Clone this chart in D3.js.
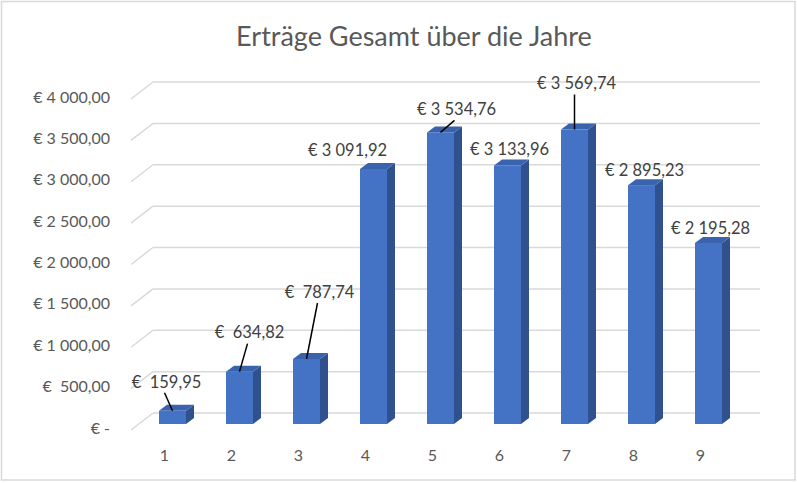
<!DOCTYPE html>
<html>
<head>
<meta charset="utf-8">
<script src="https://cdn.jsdelivr.net/npm/d3@7"></script>
<style>
  body { margin: 0; background: #fff; }
  text { font-family: Lato, "Noto Sans", sans-serif; fill: #595959; }
</style>
</head>
<body>
<div id="chart"></div>
<script>
// data
const years = ["1", "2", "3", "4", "5", "6", "7", "8", "9"];
const ertraege = [159.95, 634.82, 787.74, 3091.92, 3534.76, 3133.96, 3569.74, 2895.23, 2195.28];
const yTicks = [0, 500, 1000, 1500, 2000, 2500, 3000, 3500, 4000];

// where Excel placed the data labels, relative to the bar top
const labelDx = [-6, 10, 13, -26, 16, 2, 2, 3, 2];
const labelDy = [-29, -39, -67, -19, -23, -16, -46, -15, -15];
const hasLeader = [true, true, true, false, true, false, true, false, false];

const W = 797, H = 483;
const depthX = 8, depthY = -6;

const svg = d3.select("#chart").append("svg")
    .attr("width", W)
    .attr("height", H);

// chart border
svg.append("rect")
    .attr("x", 1.5).attr("y", 1.5)
    .attr("width", W - 3.5).attr("height", H - 4.5)
    .attr("fill", "#fff")
    .attr("stroke", "#d9d9d9")
    .attr("stroke-width", 1.5);

svg.append("text")
    .attr("x", 414).attr("y", 46)
    .attr("text-anchor", "middle")
    .attr("font-size", 27)
    .text("Erträge Gesamt über die Jahre");

const x = d3.scaleBand().domain(years).range([131, 734]);
const yBar = d3.scaleLinear().domain([0, 4000]).range([424, 94]);
const yFront = d3.scaleLinear().domain([0, 4000]).range([430, 99]);
const yBack = d3.scaleLinear().domain([0, 4000]).range([413, 82]);

const locale = d3.formatLocale({ decimal: ",", thousands: "\u00a0", grouping: [3], currency: ["€ ", ""] });
const fmt = locale.format(",.2f");

function euroLabel(v) {
    if (v === 0) return "€ -";
    return (v < 1000 ? "€\u00a0\u00a0" : "€\u00a0") + fmt(v);
}

// gridlines: side wall diagonal + back wall
const grid = svg.append("g");
grid.selectAll(".side")
    .data(yTicks)
    .enter().append("line")
    .attr("x1", 131).attr("y1", d => yFront(d))
    .attr("x2", 153).attr("y2", d => yBack(d))
    .attr("stroke", "#d9d9d9").attr("stroke-width", 1.5);
grid.selectAll(".back")
    .data(yTicks)
    .enter().append("line")
    .attr("x1", 153).attr("y1", d => yBack(d))
    .attr("x2", 760).attr("y2", d => yBack(d))
    .attr("stroke", "#d9d9d9").attr("stroke-width", 1.5);

// y axis labels
svg.append("g").selectAll("text")
    .data(yTicks)
    .enter().append("text")
    .attr("x", 110)
    .attr("y", d => yFront(d) - 2)
    .attr("dy", "0.35em")
    .attr("text-anchor", "end")
    .attr("font-size", 16)
    .text(d => euroLabel(d));

// x axis labels
svg.append("g").selectAll("text")
    .data(years)
    .enter().append("text")
    .attr("x", d => x(d) + x.bandwidth() / 2)
    .attr("y", 455)
    .attr("dy", "0.35em")
    .attr("text-anchor", "middle")
    .attr("font-size", 16)
    .text(d => d);

// 3d columns
const barOffset = 28, barW = 27;
const bars = svg.append("g").selectAll("g")
    .data(years.map((d, i) => ({ year: d, value: ertraege[i], i: i })))
    .enter().append("g");

bars.append("path") // side
    .attr("fill", "#2f528f")
    .attr("d", d => {
        let x1 = x(d.year) + barOffset + barW, top = yBar(d.value), bot = yBar(0);
        return `M${x1},${top}L${x1 + depthX},${top + depthY}L${x1 + depthX},${bot + depthY}L${x1},${bot}Z`;
    });
bars.append("path") // top
    .attr("fill", "#3a63ad")
    .attr("d", d => {
        let x0 = x(d.year) + barOffset, top = yBar(d.value);
        return `M${x0},${top}L${x0 + depthX},${top + depthY}L${x0 + barW + depthX},${top + depthY}L${x0 + barW},${top}Z`;
    });
bars.append("rect") // front
    .attr("fill", "#4472c4")
    .attr("x", d => x(d.year) + barOffset)
    .attr("y", d => yBar(d.value))
    .attr("width", barW)
    .attr("height", d => yBar(0) - yBar(d.value));

// data labels with leader lines
function labelPos(d) {
    let cx = x(d.year) + barOffset + barW / 2;
    let top = yBar(d.value);
    return { cx: cx, top: top, lx: cx + labelDx[d.i], ly: top + labelDy[d.i] };
}

bars.filter(d => hasLeader[d.i]).append("line")
    .attr("x1", d => labelPos(d).lx - 2)
    .attr("y1", d => labelPos(d).ly + 11)
    .attr("x2", d => labelPos(d).cx)
    .attr("y2", d => labelPos(d).top)
    .attr("stroke", "#000")
    .attr("stroke-width", 1.5);

bars.append("text")
    .attr("x", d => labelPos(d).lx)
    .attr("y", d => labelPos(d).ly)
    .attr("dy", "0.35em")
    .attr("text-anchor", "middle")
    .attr("font-size", 16.5)
    .style("fill", "#404040")
    .text(d => euroLabel(d.value));
</script>
</body>
</html>
